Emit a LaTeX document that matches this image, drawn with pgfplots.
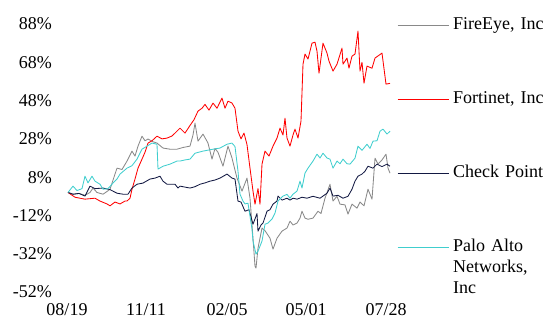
\documentclass[border=0pt]{standalone}
\usepackage{fontspec}
\setmainfont{Liberation Serif}
\usepackage{pgfplots}
\pgfplotsset{compat=1.18}
\definecolor{cFE}{RGB}{137,137,137}
\definecolor{cFT}{RGB}{255,0,0}
\definecolor{cCP}{RGB}{18,24,66}
\definecolor{cPA}{RGB}{64,206,206}
\begin{document}
\begin{tikzpicture}
\begin{axis}[
  scale only axis, width=323bp, height=268bp,
  xmin=0, xmax=323, ymin=-52, ymax=88,
  axis line style={draw=none}, tick style={draw=none},
  xtick={0,79,160,239,319},
  xticklabels={08/19,11/11,02/05,05/01,07/28},
  ytick={-52,-32,-12,8,28,48,68,88},
  yticklabels={-52\%,-32\%,-12\%,8\%,28\%,48\%,68\%,88\%},
  tick label style={font=\fontsize{18bp}{21bp}\selectfont, inner sep=0pt},
  yticklabel style={anchor=east, xshift=-15bp},
  xticklabel style={anchor=north, yshift=-11bp},
  legend style={draw=none, fill=none, font=\fontsize{18bp}{21bp}\selectfont,
    at={(axis description cs:1.0217,1.035)}, anchor=north west,
    inner sep=0pt, row sep=53bp, column sep=0pt,
    nodes={text height=13bp, text depth=4bp, inner ysep=2bp, inner xsep=4bp, text width=96bp, align=left}},
  legend cell align=left,
  legend image code/.code={\draw[#1] (0bp,0bp) -- (51bp,0bp);},
  every axis plot/.append style={line width=0.85pt, line join=round},
  clip=false,
]
\addplot[cFE] coordinates {
(1,0)(6,-1)(12,-0.5)(18,-1.5)(23,0)(26,2.3)(30,0)(36,-0.9)(40,0.5)(43,1.7)
(48,9.6)(50,12.7)(55,12)(60,16.4)(65,21.6)(68,19)(71,24.2)(75,29.4)(78,27)(81,27.9)
(86,26.5)(90,25.8)(96,23.2)(103,22.6)(110,22.6)(116,23.5)(123,24.2)(126,30)(128,36.2)(131,26.8)
(136,30.5)(141,25.8)(145,17.4)(148,23)(151,21)(156,13.7)(161,24.2)(165,18)(170,7.5)(175,0.7)
(180,7.5)(183,-3)(186,-24)(188,-38.5)(189,-39.5)(191,-29.1)(195,-18.6)(198,-20)(203,-23.9)(206,-29.6)
(210,-23.9)(215,-20.2)(220,-18.6)(223,-15)(226,-17)(230,-16)(233,-13.4)(235,-9.8)(238,-13.4)(241,-14)
(246,-13.4)(251,-9.8)(254,-11)(258,-3)(263,4.3)(266,-4.5)(270,-2)(273,-6.1)(278,-6.5)(281,-11.3)
(285,-6.1)(290,-8.2)(293,-5)(297,-7)(301,1.7)(305,-3.5)(308,17.9)(311,14.8)(315,17)(319,20)
(321,12.7)(323,10.1)};
\addlegendentry{FireEye, Inc}
\addplot[cFT] coordinates {
(1,0)(8,-2.5)(18,-3.5)(28,-3)(33,-4.5)(40,-6)(43,-7)(48,-5)(53,-6)(58,-4.5)
(60,-4.5)(63,-3)(65,1.7)(68,7)(71,12.7)(75,17.4)(78,21)(81,25.8)(85,27)(90,29.4)
(95,28)(100,28.4)(105,29.5)(108,31)(113,33.6)(118,31)(123,35)(127,38)(131,42.5)(135,44)
(138,46)(142,43)(146,46.7)(150,44)(155,49.3)(158,44)(161,47.7)(165,46.7)(168,44)(171,32)
(174,28)(177,31)(180,25)(183,12.7)(186,0.7)(188,-6.1)(191,2)(193,-6.1)(195,14.8)(198,21.6)
(202,19)(206,24.2)(210,28.4)(213,33.6)(216,30)(218,38.8)(220,28.4)(223,24.2)(226,30)(228,33.1)
(231,28.4)(234,37.3)(236,67)(238,72.3)(241,69.7)(245,78)(248,78.5)(250,73.8)(252,62.3)(256,78)
(260,72.8)(262,68.6)(266,63.4)(270,67)(275,75.4)(276,67)(280,70.2)(282,64.9)(285,71.2)(288,72.3)
(291,84.3)(293,63.4)(295,68)(297,57.1)(300,66)(305,64.9)(308,70.2)(315,72.8)(319,56.6)(323,57)};
\addlegendentry{Fortinet, Inc}
\addplot[cCP] coordinates {
(1,0)(6,-0.9)(12,-0.5)(18,-1.9)(23,3.3)(28,2)(36,2.3)(43,1.5)(50,-0.4)(56,-0.9)
(61,-0.9)(65,2.3)(70,4.3)(76,4.9)(83,7)(88,7.5)(93,8.5)(96,5.9)(100,4.3)(108,4.3)
(111,2.3)(113,3.3)(118,2.8)(123,2.3)(128,3)(133,4.3)(138,5)(143,5.9)(148,6.5)(153,7.5)
(160,9.6)(165,7.5)(168,7)(171,-4.5)(174,-5)(178,-9.8)(182,-9)(186,-16.6)(190,-11)(191,-20.2)
(194,-17)(196,-16)(200,-9.8)(203,-9)(206,-6.1)(210,-4.5)(211,-1.9)(215,-4)(220,-3)(223,-4)
(226,-3)(230,-3.5)(235,-2.5)(240,-3)(246,-2)(253,-3)(260,-0.4)(263,2.3)(266,-1.9)(271,-1.5)
(276,-3)(281,-2)(285,1.7)(288,5.9)(291,8.5)(295,9.6)(298,11.1)(301,13.7)(306,12.7)(310,14.8)
(315,13.5)(320,14.8)(323,13.7)};
\addlegendentry{Check Point}
\addplot[cPA] coordinates {
(1,0)(6,3.3)(10,1)(15,2)(18,8.5)(21,5)(25,8.5)(28,5.9)(33,4.3)(36,1.7)
(41,2)(46,4.9)(50,7)(53,9.6)(60,12.7)(65,14)(70,17.4)(75,22.6)(80,24.2)(85,25.8)
(90,25.2)(91,12.2)(96,13.7)(103,14.8)(110,16.4)(113,16.4)(118,17)(123,17.4)(128,20.5)(136,21.6)
(146,22.6)(153,23.2)(160,25.2)(165,25.8)(168,24)(171,11.1)(173,-0.9)(176,-4.5)(178,-6)(181,-5.6)
(185,-19.2)(186,-25.4)(189,-32.2)(191,-30.7)(195,-25.4)(198,-16.6)(201,-16)(205,-13.9)(208,-10.8)(211,-4.5)
(216,-1.9)(220,-1)(223,-3)(226,-0.9)(230,0.7)(233,5.9)(235,2.3)(238,10.1)(241,12.7)(246,16.4)
(250,20)(253,18)(256,20.5)(260,18)(263,17.4)(266,12.7)(270,16.4)(273,15)(276,17.4)(280,15)
(283,14.8)(288,17.9)(291,24.2)(295,22)(300,25.2)(303,23)(306,26.8)(310,27)(313,32)(316,33.1)
(320,30.5)(323,32)};
\addlegendentry{Palo Alto Networks, Inc}
\end{axis}
\pgfresetboundingbox
\path[use as bounding box] ([shift={(-67bp,-27bp)}]current axis.south west) rectangle ([shift={(479bp,292bp)}]current axis.south west);
\end{tikzpicture}
\end{document}
